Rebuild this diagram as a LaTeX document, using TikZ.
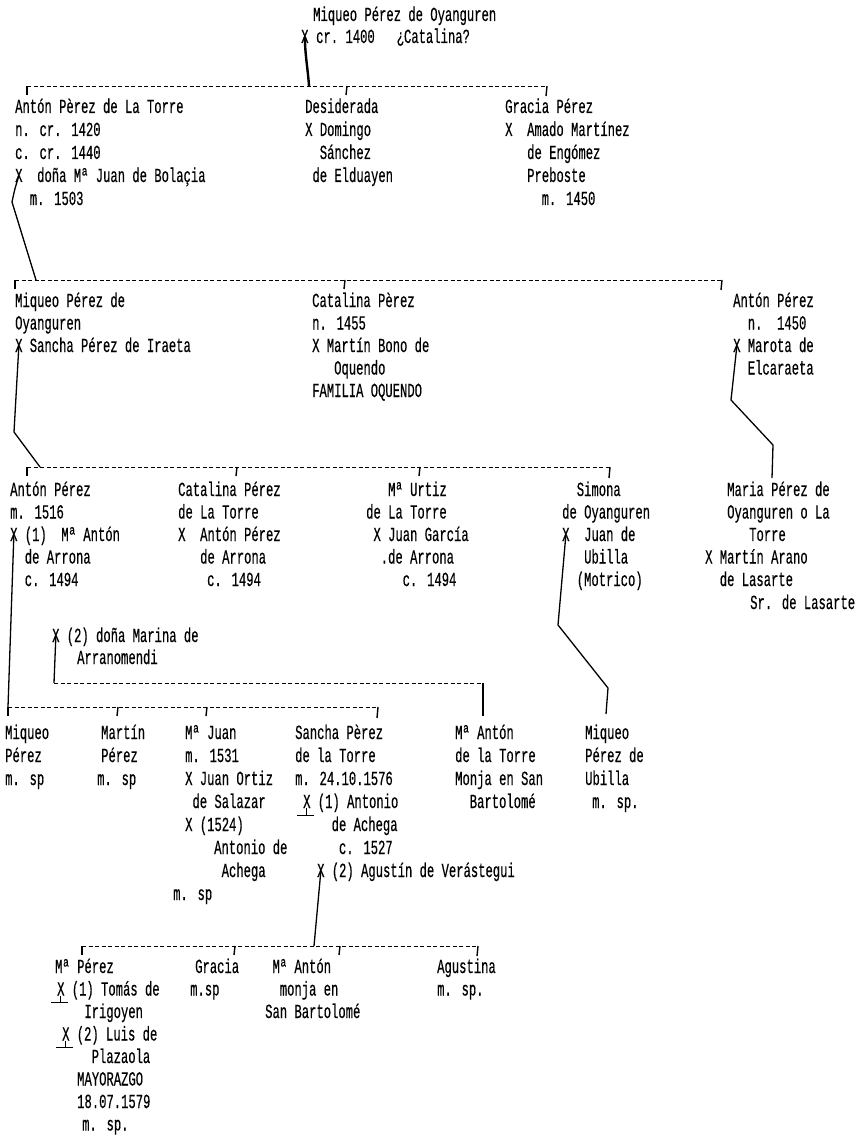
\documentclass[tikz,border=0pt]{standalone}
\usepackage{fontspec}
\newfontfamily\monofam[FakeStretch=0.61,FakeBold=0.4]{Liberation Mono}
\begin{document}
\begin{tikzpicture}[x=1pt,y=-1pt,
 t/.style={anchor=west, inner sep=0pt, text height=12pt, text depth=0pt, font=\monofam\fontsize{20}{22}\selectfont},
 dl/.style={line width=0.9pt, dash pattern=on 4pt off 2.5pt},
 tk/.style={line width=1.4pt},
 cn/.style={line width=1.3pt, line join=round},
 ul/.style={line width=1.1pt}]
\fill[white] (0,0) rectangle (861,1147);
\useasboundingbox (0,0) rectangle (861,1147);

% ---------- top ----------
\node[t] (p0) at (313,15) {Miqueo Pérez de Oyanguren};
\node[t] (xt) at (301,37) {X};
\node[t] (p0m) at (316,37) {cr.~1400~~~¿Catalina?};

% ---------- generation 1 ----------
\coordinate (g1a) at (27,86); \coordinate (g1b) at (347,86);
\coordinate (g1c) at (547,86); \coordinate (g1j) at (309,86);
\draw[dl] (g1a) -- (g1c);
\draw[tk] (g1a) -- ++(0,9); \draw[tk] (g1b) -- ++(-1,9); \draw[tk] (g1c) -- ++(-1,10);
\draw[line width=2.4pt] (xt.center) .. controls (305,55) and (308,70) .. (g1j);

\node[t] (a1) at (15,107) {Antón Pèrez de La Torre};
\node[t] (a2) at (15,130) {n. cr. 1420};
\node[t] (a3) at (15,153) {c. cr. 1440};
\node[t] (xa) at (15,176) {X};
\node[t] (a4) at (37,176) {doña Mª Juan de Bolaçia};
\node[t] (a5) at (29.6,199) {m. 1503};

\node[t] (d1) at (305,107) {Desiderada};
\node[t] (d2) at (305,130) {X Domingo};
\node[t] (d3) at (319.6,153) {Sánchez};
\node[t] (d4) at (312.3,176) {de Elduayen};

\node[t] (g1) at (505,107) {Gracia Pérez};
\node[t] (g2) at (505,130) {X~~Amado Martínez};
\node[t] (g3) at (527,153) {de Engómez};
\node[t] (g4) at (527,176) {Preboste};
\node[t] (g5) at (541.5,199) {m. 1450};

% ---------- generation 2 ----------
\coordinate (g2a) at (15,280); \coordinate (g2b) at (345,280);
\coordinate (g2c) at (722,280); \coordinate (g2j) at (36,280);
\draw[dl] (g2a) -- (g2c);
\draw[tk] (g2a) -- ++(0,9); \draw[tk] (g2b) -- ++(-1,9); \draw[tk] (g2c) -- ++(-1,10);
\draw[cn] (xa.center) .. controls (15,188) .. (12,202) -- (g2j);

\node[t] (b1) at (15,301) {Miqueo Pérez de};
\node[t] (b2) at (15,323.5) {Oyanguren};
\node[t] (xb) at (15,346) {X};
\node[t] (b3) at (29.6,346) {Sancha Pérez de Iraeta};

\node[t] (k1) at (312,301) {Catalina Pèrez};
\node[t] (k2) at (312,323.5) {n. 1455};
\node[t] (k3) at (312,346) {X Martín Bono de};
\node[t] (k4) at (334,368.5) {Oquendo};
\node[t] (k5) at (312,391) {FAMILIA OQUENDO};

\node[t] (r1) at (733,301) {Antón Pérez};
\node[t] (r2) at (747.6,323.5) {n.~~1450};
\node[t] (xr) at (733,346) {X};
\node[t] (r3) at (747.6,346) {Marota de};
\node[t] (r4) at (747.6,368.5) {Elcaraeta};

% ---------- generation 3 ----------
\coordinate (g3a) at (27,467); \coordinate (g3b) at (237,467);
\coordinate (g3c) at (420,467); \coordinate (g3d) at (610,467);
\coordinate (g3j) at (40,467); \coordinate (cr) at (772,478);
\draw[dl] (g3a) -- (g3d);
\draw[tk] (g3a) -- ++(0,9); \draw[tk] (g3b) -- ++(-1,9);
\draw[tk] (g3c) -- ++(-1,9); \draw[tk] (g3d) -- ++(-1,11);
\draw[cn] (xb.center) -- (14,432) -- (g3j);
\draw[cn] (xr.center) -- (731,400) -- (773,445) -- (cr);

\node[t] (e1) at (10,490) {Antón Pérez};
\node[t] (e2) at (10,512.5) {m. 1516};
\node[t] (xe) at (10,535) {X};
\node[t] (e3) at (24.6,535) {(1)~~Mª Antón};
\node[t] (e4) at (24.6,557.5) {de Arrona};
\node[t] (e5) at (24.6,580) {c. 1494};

\node[t] (f1) at (178,490) {Catalina Pérez};
\node[t] (f2) at (178,512.5) {de La Torre};
\node[t] (f3) at (178,535) {X~~Antón Pérez};
\node[t] (f4) at (200,557.5) {de Arrona};
\node[t] (f5) at (207,580) {c. 1494};

\node[t] (h1) at (388,490) {Mª Urtiz};
\node[t] (h2) at (366,512.5) {de La Torre};
\node[t] (h3) at (373.3,535) {X Juan García};
\node[t] (h4) at (380.6,557.5) {.de Arrona};
\node[t] (h5) at (402.5,580) {c. 1494};

\node[t] (s1) at (576.6,490) {Simona};
\node[t] (s2) at (562,512.5) {de Oyanguren};
\node[t] (xs) at (562,535) {X};
\node[t] (s3) at (584,535) {Juan de};
\node[t] (s4) at (584,557.5) {Ubilla};
\node[t] (s5) at (576.6,580) {(Motrico)};

\node[t] (m1) at (727,490) {Maria Pérez de};
\node[t] (m2) at (727,512.5) {Oyanguren o La};
\node[t] (m3) at (749,535) {Torre};
\node[t] (m4) at (705,557.5) {X Martín Arano};
\node[t] (m5) at (719.6,580) {de Lasarte};
\node[t] (m6) at (750,603) {Sr. de Lasarte};

% second marriage
\node[t] (xw) at (52,636) {X};
\node[t] (w1) at (66.6,636) {(2) doña Marina de};
\node[t] (w2) at (77,658) {Arranomendi};
\coordinate (g6a) at (54,683); \coordinate (g6b) at (483,683); \coordinate (g6e) at (483,716);
\draw[cn] (xw.center) -- (g6a);
\draw[dl] (g6a) -- (g6b);
\draw[cn] (g6b) -- (g6e);

% ---------- generation 4 ----------
\coordinate (g4a) at (8,707); \coordinate (g4b) at (118,707);
\coordinate (g4c) at (207,707); \coordinate (g4d) at (378,707);
\coordinate (cs) at (606,714);
\draw[dl] (g4a) -- (g4d);
\draw[tk] (g4a) -- ++(0,9); \draw[tk] (g4b) -- ++(-1,9);
\draw[tk] (g4c) -- ++(-1,9); \draw[tk] (g4d) -- ++(-1,11);
\draw[cn] (xe.center) -- (g4a);
\draw[cn] (xs.center) -- (558,625) -- (608,688) -- (cs);

\node[t] (i1) at (5,733) {Miqueo};
\node[t] (i2) at (5,756) {Pérez};
\node[t] (i3) at (5,779) {m. sp};

\node[t] (j1) at (101,733) {Martín};
\node[t] (j2) at (101,756) {Pérez};
\node[t] (j3) at (97,779) {m. sp};

\node[t] (l1) at (185,733) {Mª Juan};
\node[t] (l2) at (185,756) {m. 1531};
\node[t] (l3) at (185,779) {X Juan Ortiz};
\node[t] (l4) at (192.3,802) {de Salazar};
\node[t] (l5) at (185,825) {X (1524)};
\node[t] (l6) at (214,848) {Antonio de};
\node[t] (l7) at (221.5,871) {Achega};
\node[t] (l8) at (173,894) {m. sp};

\node[t] (n1) at (295,733) {Sancha Pèrez};
\node[t] (n2) at (295,756) {de la Torre};
\node[t] (n3) at (295,779) {m. 24.10.1576};
\node[t] (ux1) at (303,802) {X};
\node[t] (n4) at (317.6,802) {(1) Antonio};
\node[t] (n5) at (331.5,825) {de Achega};
\node[t] (n6) at (338.8,848) {c. 1527};
\node[t] (xg) at (317,871) {X};
\node[t] (n7) at (331.6,871) {(2) Agustín de Verástegui};
\draw[ul] (ux1.south) -- ++(0,7);
\draw[ul] ([shift={(-10,7)}]ux1.south) -- ++(17,0);

\node[t] (o1) at (455,733) {Mª Antón};
\node[t] (o2) at (455,756) {de la Torre};
\node[t] (o3) at (455,779) {Monja en San};
\node[t] (o4) at (469.6,802) {Bartolomé};

\node[t] (v1) at (585,733) {Miqueo};
\node[t] (v2) at (585,756) {Pérez de};
\node[t] (v3) at (585,779) {Ubilla};
\node[t] (v4) at (592,802) {m. sp.};

% ---------- generation 5 ----------
\coordinate (g5a) at (82,946); \coordinate (g5b) at (235,946);
\coordinate (g5c) at (340,946); \coordinate (g5d) at (478,946);
\coordinate (g5j) at (314,946);
\draw[dl] (g5a) -- (g5d);
\draw[tk] (g5a) -- ++(0,9); \draw[tk] (g5b) -- ++(-1,9);
\draw[tk] (g5c) -- ++(-1,9); \draw[tk] (g5d) -- ++(-1,10);
\draw[cn] (xg.center) -- (g5j);

\node[t] (q1) at (55,967) {Mª Pérez};
\node[t] (uq1) at (57,989.5) {X};
\node[t] (q2) at (71.6,989.5) {(1) Tomás de};
\node[t] (q3) at (84.2,1012) {Irigoyen};
\node[t] (uq2) at (62,1034.5) {X};
\node[t] (q4) at (76.6,1034.5) {(2) Luis de};
\node[t] (q5) at (91.5,1057) {Plazaola};
\node[t] (q6) at (77,1079.5) {MAYORAZGO};
\node[t] (q7) at (77,1102) {18.07.1579};
\node[t] (q8) at (82,1124.5) {m. sp.};
\draw[ul] (uq1.south) -- ++(0,7);
\draw[ul] ([shift={(-10,7)}]uq1.south) -- ++(17,0);
\draw[ul] (uq2.south) -- ++(0,7);
\draw[ul] ([shift={(-10,7)}]uq2.south) -- ++(17,0);

\node[t] (u1) at (195,967) {Gracia};
\node[t] (u2) at (190,989.5) {m.sp};

\node[t] (y1) at (272.3,967) {Mª Antón};
\node[t] (y2) at (279.6,989.5) {monja en};
\node[t] (y3) at (265,1012) {San Bartolomé};

\node[t] (z1) at (437,967) {Agustina};
\node[t] (z2) at (437,989.5) {m. sp.};
\end{tikzpicture}
\end{document}
